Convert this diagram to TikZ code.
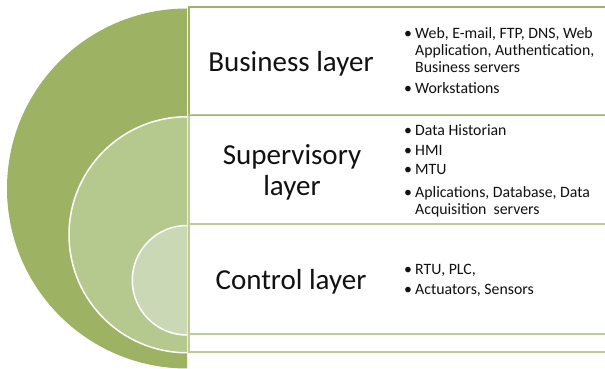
\documentclass[tikz,border=0pt]{standalone}
\usepackage{fontspec}
\setmainfont{Carlito}
\definecolor{gOuter}{HTML}{9DB262}
\definecolor{gMid}{HTML}{B5C98F}
\definecolor{gInner}{HTML}{CBD8B5}
\definecolor{lineA}{HTML}{9DB262}
\definecolor{lineB}{HTML}{BACD98}
\definecolor{txt}{HTML}{111111}
\newcommand{\bulletmark}{\makebox[11pt][l]{•}}
\begin{document}
\begin{tikzpicture}[x=1pt,y=1pt,
  layerbox/.style={rectangle, fill=white, line width=1.6pt, anchor=south west, minimum width=430pt, inner sep=0pt},
  biglabel/.style={font=\fontsize{29}{33}\selectfont, text=txt, inner sep=0pt, anchor=base},
  itemline/.style={font=\fontsize{15.8}{17}\selectfont, text=txt, inner sep=0pt, anchor=base west},
  ring/.style={draw=white, line width=1.5pt}]
\useasboundingbox (0,0) rectangle (605,369);
% boxes
\node[layerbox, draw=lineB, minimum height=18pt] (box4) at (188,16) {};
\node[layerbox, draw=lineB, minimum height=110pt] (box3) at (188,34) {};
\node[layerbox, draw=lineB, minimum height=109pt] (box2) at (188,144) {};
\node[layerbox, draw=lineA, minimum height=108pt] (box1) at (188,253) {};
\draw[lineB, line width=1.6pt] (box2.north west) -- (box2.north east);
% half discs
\fill[gOuter] (187,360.5) arc[start angle=90, end angle=270, radius=180] -- cycle;
\fill[gMid] (187,252.25) arc[start angle=90, end angle=270, radius=118] -- cycle;
\draw[ring] (187,252.25) arc[start angle=90, end angle=270, radius=118];
\fill[gInner] (187,143.5) arc[start angle=90, end angle=270, radius=54.75] -- cycle;
\draw[ring] (187,143.5) arc[start angle=90, end angle=270, radius=54.75];
% labels
\node[biglabel] (l1) at (291,297) {Business layer};
\node[biglabel] (l2a) at (292,204) {Supervisory};
\node[biglabel] (l2b) at (292,173) {layer};
\node[biglabel] (l3) at (291,79) {Control layer};
% box 1 items
\node[itemline] (a1) at (404,330) {\bulletmark Web, E-mail, FTP, DNS, Web};
\node[itemline] (a2) at (415,313) {Application, Authentication,};
\node[itemline] (a3) at (415,296) {Business servers};
\node[itemline] (a4) at (404,275) {\bulletmark Workstations};
% box 2 items
\node[itemline] (b1) at (404,233) {\bulletmark Data Historian};
\node[itemline] (b2) at (404,213) {\bulletmark HMI};
\node[itemline] (b3) at (404,194) {\bulletmark MTU};
\node[itemline] (b4) at (404,171) {\bulletmark Aplications, Database, Data};
\node[itemline] (b5) at (415,154) {Acquisition\ \ servers};
% box 3 items
\node[itemline] (c1) at (404,94) {\bulletmark RTU, PLC,};
\node[itemline] (c2) at (404,74) {\bulletmark Actuators, Sensors};
\end{tikzpicture}
\end{document}
